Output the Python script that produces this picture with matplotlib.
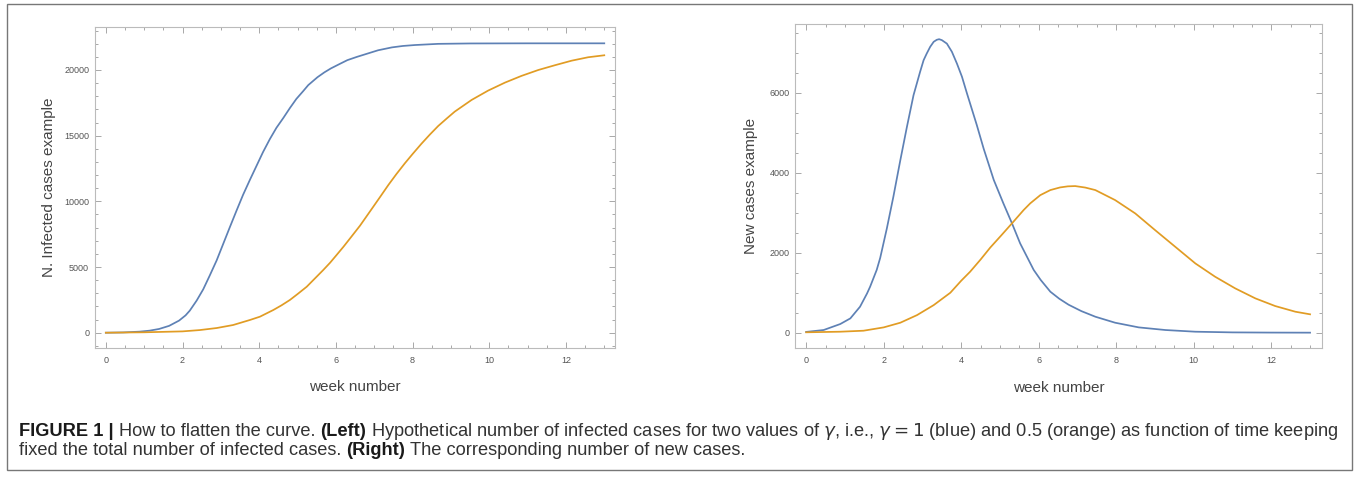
import matplotlib
matplotlib.use("Agg")
import matplotlib.pyplot as plt
from matplotlib.ticker import MultipleLocator
from matplotlib.patches import Rectangle

plt.rcParams['font.family'] = ['Liberation Sans', 'DejaVu Sans']
plt.rcParams['mathtext.fontset'] = 'dejavusans'

# --- data (week number vs. cases) ---
# left panel: cumulative infected cases
weeks_cum_blue = [0, 0.45, 0.88, 1.14, 1.39, 1.65, 1.91, 2.08, 2.19, 2.37, 2.54, 2.71, 2.89,
                  3.06, 3.23, 3.41, 3.58, 3.76, 3.93, 4.1, 4.28, 4.45, 4.63, 4.8, 4.97,
                  5.15, 5.28, 5.52, 5.7, 5.87, 6.1, 6.3, 6.55, 6.77, 7.1, 7.46, 7.75,
                  8.06, 8.67, 9.5, 11.0, 13.0]
cum_blue = [0, 20, 80, 155, 285, 520, 920, 1320, 1680, 2450, 3300, 4350, 5500,
            6750, 8000, 9300, 10500, 11650, 12700, 13750, 14750, 15600, 16350, 17100, 17800,
            18400, 18850, 19450, 19820, 20120, 20460, 20750, 21000, 21200, 21500, 21720, 21830,
            21900, 21990, 22020, 22030, 22030]

weeks_cum_orange = [0, 1.0, 2.0, 2.45, 2.89, 3.32, 3.76, 4.02, 4.37, 4.58, 4.8, 5.0, 5.24,
                    5.45, 5.67, 5.85, 6.02, 6.2, 6.37, 6.63, 6.93, 7.15, 7.37, 7.58, 7.8,
                    8.0, 8.23, 8.45, 8.67, 8.9, 9.1, 9.54, 9.97, 10.41, 10.84, 11.28, 11.71,
                    12.15, 12.58, 13.0]
cum_orange = [0, 30, 100, 200, 355, 585, 970, 1220, 1730, 2080, 2490, 2940, 3500,
              4120, 4770, 5330, 5920, 6550, 7180, 8150, 9400, 10320, 11250, 12080, 12900,
              13600, 14380, 15080, 15740, 16330, 16830, 17720, 18430, 19040, 19550, 20000, 20360,
              20710, 20970, 21120]

# right panel: new cases
weeks_new_blue = [0, 0.45, 0.88, 1.14, 1.39, 1.57, 1.65, 1.82, 1.91, 2.08, 2.25, 2.34, 2.43,
                  2.6, 2.77, 2.94, 3.03, 3.11, 3.2, 3.29, 3.37, 3.43, 3.5, 3.63, 3.76,
                  3.89, 4.02, 4.15, 4.4, 4.58, 4.84, 5.09, 5.31, 5.52, 5.87, 6.05, 6.3,
                  6.53, 6.77, 7.1, 7.46, 7.97, 8.58, 9.27, 10.04, 11.0, 12.0, 13.0]
new_blue = [20, 67, 217, 358, 650, 980, 1150, 1570, 1870, 2600, 3400, 3860, 4317,
            5150, 5940, 6525, 6815, 6980, 7150, 7275, 7325, 7340, 7317, 7230, 7025,
            6730, 6400, 5980, 5200, 4600, 3820, 3230, 2735, 2235, 1570, 1320, 1025,
            850, 700, 540, 400, 250, 133, 67, 25, 8, 3, 1]

weeks_new_orange = [0, 0.88, 1.48, 2.0, 2.43, 2.86, 3.29, 3.72, 4.0, 4.23, 4.5, 4.75, 5.03,
                    5.31, 5.61, 5.78, 6.04, 6.3, 6.55, 6.75, 6.94, 7.2, 7.46, 7.97, 8.49,
                    9.0, 9.52, 10.04, 10.55, 11.07, 11.59, 12.1, 12.62, 13.0]
new_orange = [10, 25, 50, 133, 250, 440, 690, 1000, 1300, 1525, 1830, 2130, 2430,
              2735, 3067, 3234, 3440, 3567, 3633, 3660, 3667, 3630, 3567, 3317, 2983,
              2567, 2150, 1733, 1400, 1108, 858, 667, 525, 460]

BLUE = '#5E81B5'
ORANGE = '#E19C24'

W, H = 1358, 480
fig = plt.figure(figsize=(W / 100, H / 100), dpi=100)


def px_axes(l, t, r, b):
    # axes box given in figure pixels (top-left origin)
    return fig.add_axes([l / W, 1 - b / H, (r - l) / W, (b - t) / H])


def style(ax, ymaj, ymin):
    ax.xaxis.set_major_locator(MultipleLocator(2))
    ax.xaxis.set_minor_locator(MultipleLocator(0.5))
    ax.yaxis.set_major_locator(MultipleLocator(ymaj))
    ax.yaxis.set_minor_locator(MultipleLocator(ymin))
    ax.tick_params(which='both', direction='in', top=True, right=True,
                   color='#9a9a9a', width=0.6, labelsize=6.5, labelcolor='#555555')
    ax.tick_params(which='major', length=4)
    ax.tick_params(which='minor', length=2.2)
    ax.tick_params(axis='x', which='major', pad=5.5)
    ax.tick_params(axis='y', which='major', pad=4)
    for s in ax.spines.values():
        s.set_color('#bbbbbb')
        s.set_linewidth(0.8)


ax1 = px_axes(94.7, 27.3, 615, 348)
ax1.plot(weeks_cum_blue, cum_blue, color=BLUE, lw=1.25)
ax1.plot(weeks_cum_orange, cum_orange, color=ORANGE, lw=1.25)
ax1.set_xlim(-0.29, 13.28)
ax1.set_ylim(-1165, 23250)
style(ax1, 5000, 1000)
ax1.set_xlabel('week number', fontsize=11, color='#444444')
ax1.set_ylabel('N. Infected cases example', fontsize=11, color='#444444')
ax1.xaxis.set_label_coords(0.5, -0.1)
ax1.yaxis.set_label_coords(-0.0744, 0.5)

ax2 = px_axes(795.3, 24, 1321.7, 348.3)
ax2.plot(weeks_new_blue, new_blue, color=BLUE, lw=1.25)
ax2.plot(weeks_new_orange, new_orange, color=ORANGE, lw=1.25)
ax2.set_xlim(-0.28, 13.3)
ax2.set_ylim(-390, 7720)
style(ax2, 2000, 500)
ax2.set_xlabel('week number', fontsize=11, color='#444444')
ax2.set_ylabel('New cases example', fontsize=11, color='#444444')
ax2.xaxis.set_label_coords(0.5, -0.1)
ax2.yaxis.set_label_coords(-0.0709, 0.5)

# outer frame around figure + caption
fig.patches.append(Rectangle((7 / W, 1 - 470 / H), (1352 - 7) / W, (470 - 4) / H,
                             transform=fig.transFigure, fill=False,
                             edgecolor='#777777', lw=1))

# caption, mixed bold / regular pieces placed one after another
line1 = [("FIGURE 1 |", 'bold'), ("How to flatten the curve.", 'normal'), ("(Left)", 'bold'),
         ("Hypothetical number of infected cases for two values of $\\gamma$, i.e., "
          "$\\gamma = 1$ (blue) and 0.5 (orange) as function of time keeping", 'normal')]
line2 = [("fixed the total number of infected cases.", 'normal'), ("(Right)", 'bold'),
         ("The corresponding number of new cases.", 'normal')]

renderer = fig.canvas.get_renderer()


def draw_line(pieces, x0, y, size):
    x = x0
    arts = []
    gap = 0.278 * size * 100 / 72
    for s, w in pieces:
        c = '#1a1a1a' if w == 'bold' else '#333333'
        t = fig.text(x / W, 1 - y / H, s, fontsize=size, fontweight=w, color=c,
                     ha='left', va='center')
        x = t.get_window_extent(renderer).x1 + gap
        arts.append(t)
    return arts, x - gap - x0


arts, width = draw_line(line1, 19, 431, 10)
for a in arts:
    a.remove()
size = 10 * (1338 - 19) / width
draw_line(line1, 19, 431, size)
draw_line(line2, 19, 450.5, size)

fig.savefig('out.png', dpi=100)
